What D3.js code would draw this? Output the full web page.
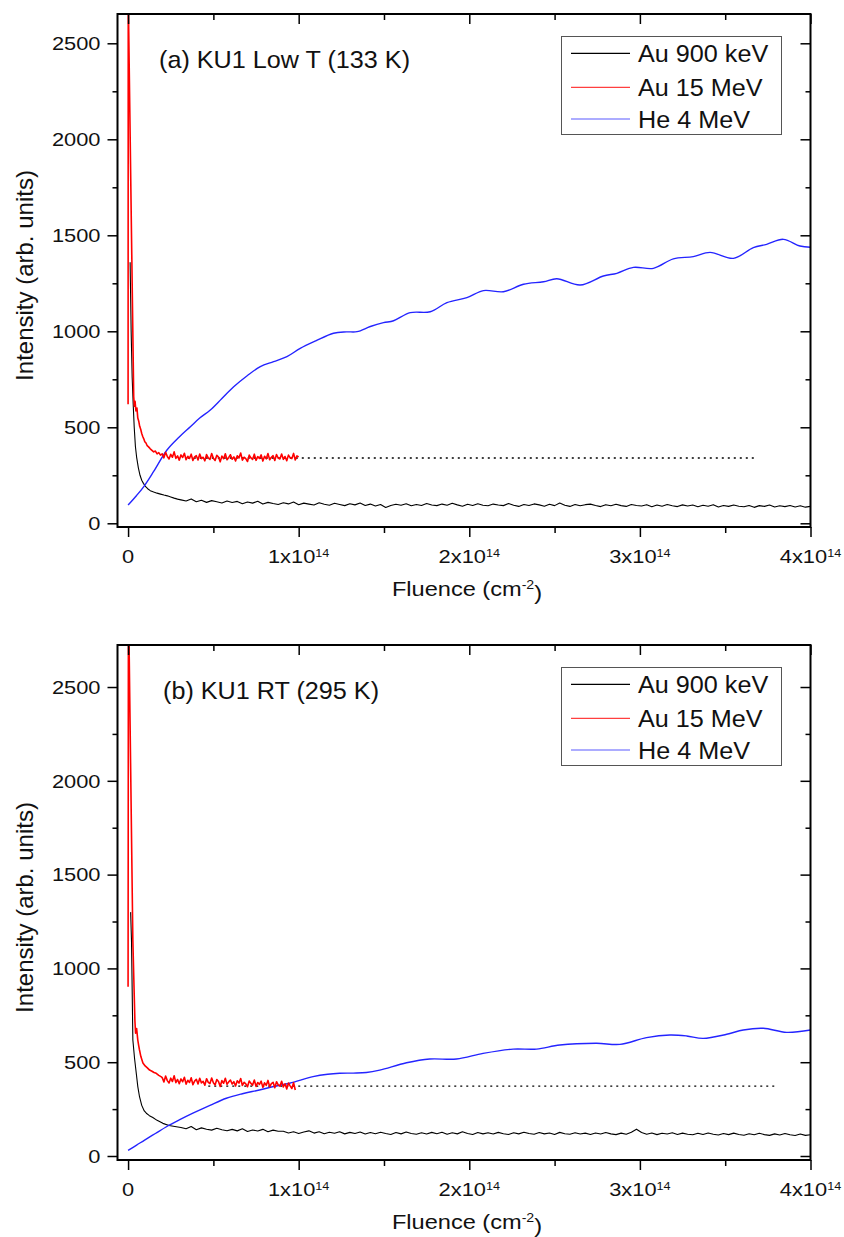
<!DOCTYPE html>
<html><head><meta charset="utf-8">
<script src="https://cdn.jsdelivr.net/npm/d3@7/dist/d3.min.js"></script>
<style>body{margin:0;background:#fff}svg{display:block;font-family:Arial,"Liberation Sans",sans-serif}</style>
</head><body><svg id="c" width="844" height="1237"></svg>
<script>
// ---------------- DATA (fluence in 1e14 cm^-2, intensity in arb. units) ----------------
const seriesNames = ["Au 900 keV", "Au 15 MeV", "He 4 MeV"];
const panelTitles = ["(a) KU1 Low T (133 K)", "(b) KU1 RT (295 K)"];
const xMajorTicks = [0, 1, 2, 3, 4];
const xMinorTicks = [0.5, 1.5, 2.5, 3.5];
const xTickLabels = ["0", "1x10^14", "2x10^14", "3x10^14", "4x10^14"];
const yMajorTicks = [0, 500, 1000, 1500, 2000, 2500];
const yMinorTicks = [250, 750, 1250, 1750, 2250];
const yTickLabels = ["0", "500", "1000", "1500", "2000", "2500"];

// shared sampling grids of the noisy traces
const gridBlack = [0.31,0.34,0.37,0.40,0.43,0.46,0.49,0.52,0.55,0.58,
0.61,0.64,0.67,0.70,0.73,0.76,0.79,0.82,0.85,0.88,
0.91,0.94,0.97,1.00,1.03,1.06,1.09,1.12,1.15,1.18,
1.21,1.24,1.27,1.30,1.33,1.36,1.39,1.42,1.45,1.48,
1.51,1.54,1.57,1.60,1.63,1.66,1.69,1.72,1.75,1.78,
1.81,1.84,1.87,1.90,1.93,1.96,1.99,2.02,2.05,2.08,
2.11,2.14,2.17,2.20,2.23,2.26,2.29,2.32,2.35,2.38,
2.41,2.44,2.47,2.50,2.53,2.56,2.59,2.62,2.65,2.68,
2.71,2.74,2.77,2.80,2.83,2.86,2.89,2.92,2.95,2.98,
3.01,3.04,3.07,3.10,3.13,3.16,3.19,3.22,3.25,3.28,
3.31,3.34,3.37,3.40,3.43,3.46,3.49,3.52,3.55,3.58,
3.61,3.64,3.67,3.70,3.73,3.76,3.79,3.82,3.85,3.88,
3.91,3.94,3.97,4.00];
const gridRed = [0.20,0.21,0.22,0.23,0.24,0.25,0.26,0.27,0.28,0.29,
0.30,0.31,0.32,0.33,0.34,0.35,0.36,0.37,0.38,0.39,
0.40,0.41,0.42,0.43,0.44,0.45,0.46,0.47,0.48,0.49,
0.50,0.51,0.52,0.53,0.54,0.55,0.56,0.57,0.58,0.59,
0.60,0.61,0.62,0.63,0.64,0.65,0.66,0.67,0.68,0.69,
0.70,0.71,0.72,0.73,0.74,0.75,0.76,0.77,0.78,0.79,
0.80,0.81,0.82,0.83,0.84,0.85,0.86,0.87,0.88,0.89,
0.90,0.91,0.92,0.93,0.94,0.95,0.96,0.97,0.98,0.99,1.00];

// ----- panel (a) -----
const blackHeadA = [[0.012,1360],[0.018,1000],[0.024,760],[0.030,620],[0.036,500],[0.043,400],[0.050,345],[0.060,290],[0.070,250],[0.080,224],[0.090,208],[0.100,194],[0.115,180],[0.130,170],[0.150,163],[0.170,157],[0.190,152],[0.210,147],[0.230,143],[0.250,137],[0.270,131],[0.290,126]];
const blackTailA = [122,116,127,112,120,109,118,112,106,116,
108,114,102,111,105,115,100,109,103,98,
107,101,111,97,105,100,95,107,99,94,
104,98,92,102,96,106,93,100,90,98,
82,93,99,94,102,91,98,93,103,95,
92,100,94,104,96,89,99,93,102,94,
91,100,95,92,103,94,88,98,93,101,
96,89,99,92,106,94,88,98,91,97,
100,93,87,97,91,99,92,88,98,93,
90,97,86,95,89,98,91,87,96,90,
95,86,94,89,97,85,93,88,95,89,
86,93,83,92,88,95,85,91,87,93,
85,91,84,88];
const redHeadA = [[0,620],[0.001,2750],[0.033,660],[0.037,610],[0.041,635],[0.046,585],[0.052,600],[0.057,548],[0.063,530],[0.068,505],[0.074,490],[0.080,468],[0.086,452],[0.092,440],[0.098,425],[0.105,418],[0.112,404],[0.120,398],[0.130,388],[0.140,380],[0.150,372],[0.160,376],[0.170,362],[0.180,368],[0.190,355]];
const redTailA = [362,341,370,348,335,359,344,372,338,351,
329,356,343,365,331,349,338,360,327,346,
352,330,361,337,344,325,358,341,333,363,
339,327,354,345,320,350,336,362,331,343,
357,334,346,325,352,340,366,329,344,337,
322,355,341,333,360,328,347,338,356,324,
349,336,363,331,344,352,327,358,340,335,
361,333,348,326,355,342,337,364,330,351,
346];
const blueA = [[0,95],[0.05,145],[0.091,190],[0.15,270],[0.228,382],[0.30,450],[0.365,503],[0.42,548],[0.482,590],[0.55,650],[0.619,711],[0.70,770],[0.775,816],[0.853,842],[0.931,868],[1.009,911],[1.10,950],[1.204,990],[1.28,997],[1.342,998],[1.42,1025],[1.497,1045],[1.556,1055],[1.654,1097],[1.771,1102],[1.869,1149],[1.986,1175],[2.083,1212],[2.20,1206],[2.318,1245],[2.435,1258],[2.513,1274],[2.65,1241],[2.786,1288],[2.865,1302],[2.962,1333],[3.079,1328],[3.196,1377],[3.313,1389],[3.411,1411],[3.548,1380],[3.665,1436],[3.743,1453],[3.841,1479],[3.938,1444],[4.0,1438]];
const refLineA = [[0.35,340],[3.69,340]];

// ----- panel (b) -----
const blackHeadB = [[0.015,1300],[0.020,1150],[0.028,618],[0.038,520],[0.048,441],[0.057,370],[0.067,316],[0.080,270],[0.095,240],[0.107,228],[0.125,215],[0.145,205],[0.170,190],[0.204,174],[0.240,163],[0.283,156]];
const blackTailB = [152,145,157,140,150,143,138,148,140,135,
142,134,145,131,139,133,142,129,138,132,
132,123,129,120,128,134,122,129,119,127,
121,129,118,126,120,128,117,125,119,127,
120,115,125,118,128,120,116,124,117,126,
119,127,116,124,118,129,120,115,125,118,
124,117,126,119,115,124,118,127,120,116,
125,118,123,115,126,119,116,124,117,122,
115,123,117,125,118,114,122,116,127,143,
125,116,123,114,121,117,124,115,122,116,
113,121,115,123,116,112,120,114,122,115,
111,119,113,121,114,110,118,112,120,113,
109,117,110,113];
const redHeadB = [[0,902],[0.002,3000],[0.028,1150],[0.036,860],[0.040,720],[0.044,655],[0.050,680],[0.057,618],[0.062,590],[0.067,565],[0.075,530],[0.087,496],[0.100,480],[0.113,470],[0.126,458],[0.140,452],[0.152,445],[0.165,441],[0.180,430],[0.195,422]];
const redTailB = [418,395,426,402,389,415,397,428,391,408,
385,411,396,420,383,404,392,417,380,399,
409,384,414,390,398,377,412,393,386,416,
391,379,408,397,371,402,388,414,382,395,
405,384,396,373,401,389,413,376,393,385,
369,400,387,378,405,371,392,382,399,366,
390,377,403,369,386,393,364,396,379,372,
398,368,385,357,389,374,360,391,352];
const blueB = [[0,30],[0.05,58],[0.097,85],[0.16,120],[0.225,156],[0.30,192],[0.38,228],[0.48,270],[0.576,308],[0.67,332],[0.77,352],[0.86,372],[0.947,388],[1.084,423],[1.17,436],[1.24,441],[1.32,442],[1.397,445],[1.475,458],[1.632,497],[1.768,517],[1.925,517],[2.081,547],[2.257,570],[2.394,570],[2.531,592],[2.746,601],[2.883,595],[3.039,631],[3.176,645],[3.274,640],[3.371,627],[3.509,649],[3.606,672],[3.723,681],[3.86,659],[4.0,672]];
const refLineB = [[0.47,373],[3.81,373]];

// ---------------- DRAWING ----------------
const colors = ["#000000", "#ff0000", "#2424ff"];
const svg = d3.select("#c");

const panels = [
  {id:"a", top:14, bottom:527, yDomain:[-19.3, 2652.6], title:panelTitles[0],
   black: blackHeadA.concat(blackTailA.map((v,i)=>[gridBlack[i], v])),
   red: redHeadA.concat(redTailA.map((v,i)=>[gridRed[i], v])),
   blue: blueA, ref: refLineA},
  {id:"b", top:645, bottom:1160, yDomain:[-21.3, 2724], title:panelTitles[1],
   black: blackHeadB.concat(blackTailB.map((v,i)=>[gridBlack[i], v])),
   red: redHeadB.concat(redTailB.map((v,i)=>[gridRed[i], v])),
   blue: blueB, ref: refLineB}
];

const left = 117.5, right = 810.5;
const xDomain = [-0.062, 4.0];

function addSupText(sel, label, supSize) {
  const parts = label.split("^");
  sel.append("tspan").text(parts[0]);
  if (parts.length > 1) {
    sel.append("tspan").attr("dy", "-0.55em").attr("font-size", supSize).text(parts[1]);
  }
}

panels.forEach(p => {
  const x = d3.scaleLinear().domain(xDomain).range([left, right]);
  const y = d3.scaleLinear().domain(p.yDomain).range([p.bottom, p.top]);
  const g = svg.append("g");

  g.append("clipPath").attr("id", "clip" + p.id)
    .append("rect").attr("x", left).attr("y", p.top).attr("width", right - left).attr("height", p.bottom - p.top);

  const plot = g.append("g").attr("clip-path", `url(#clip${p.id})`);
  const line = d3.line().x(d => x(d[0])).y(d => y(d[1]));
  const smooth = d3.line().x(d => x(d[0])).y(d => y(d[1])).curve(d3.curveCatmullRom.alpha(0.5));

  plot.append("path").datum(p.ref).attr("d", line).attr("fill", "none")
    .attr("stroke", "#000").attr("stroke-width", 1.3).attr("stroke-dasharray", "2,4");
  plot.append("path").datum(p.black).attr("d", line).attr("fill", "none")
    .attr("stroke", colors[0]).attr("stroke-width", 1.1).attr("stroke-linejoin", "round");
  plot.append("path").datum(p.blue).attr("d", smooth).attr("fill", "none")
    .attr("stroke", colors[2]).attr("stroke-width", 1.4);
  plot.append("path").datum(p.red).attr("d", line).attr("fill", "none")
    .attr("stroke", colors[1]).attr("stroke-width", 1.6).attr("stroke-linejoin", "round");

  // axes ticks
  const tickStyle = sel => { sel.select(".domain").remove(); sel.selectAll("line").attr("stroke", "#000").attr("stroke-width", 1.5); sel.selectAll("text").remove(); };
  g.append("g").attr("transform", `translate(0,${p.bottom})`)
    .call(d3.axisBottom(x).tickValues(xMajorTicks).tickSize(10)).call(tickStyle);
  g.append("g").attr("transform", `translate(0,${p.bottom})`)
    .call(d3.axisBottom(x).tickValues(xMinorTicks).tickSize(6)).call(tickStyle);
  g.append("g").attr("transform", `translate(0,${p.top})`)
    .call(d3.axisBottom(x).tickValues(xMajorTicks).tickSize(10)).call(tickStyle);
  g.append("g").attr("transform", `translate(0,${p.top})`)
    .call(d3.axisBottom(x).tickValues(xMinorTicks).tickSize(6)).call(tickStyle);
  g.append("g").attr("transform", `translate(${left},0)`)
    .call(d3.axisLeft(y).tickValues(yMajorTicks).tickSize(10)).call(tickStyle);
  g.append("g").attr("transform", `translate(${left},0)`)
    .call(d3.axisLeft(y).tickValues(yMinorTicks).tickSize(5)).call(tickStyle);
  g.append("g").attr("transform", `translate(${right},0)`)
    .call(d3.axisLeft(y).tickValues(yMajorTicks).tickSize(10)).call(tickStyle);
  g.append("g").attr("transform", `translate(${right},0)`)
    .call(d3.axisLeft(y).tickValues(yMinorTicks).tickSize(5)).call(tickStyle);

  // frame
  g.append("rect").attr("x", left).attr("y", p.top).attr("width", right - left).attr("height", p.bottom - p.top)
    .attr("fill", "none").attr("stroke", "#000").attr("stroke-width", 2);

  // x tick labels
  xMajorTicks.forEach((v, i) => {
    const t = g.append("text").attr("transform", `translate(${x(v)},${p.bottom + 36}) scale(1.15,1)`)
      .attr("text-anchor", "middle").attr("font-size", 19).attr("fill", "#111");
    addSupText(t, xTickLabels[i], 11);
  });
  // y tick labels
  yMajorTicks.forEach((v, i) => {
    g.append("text").attr("transform", `translate(${left - 17},${y(v)}) scale(1.15,1)`)
      .attr("text-anchor", "end").attr("dy", "0.36em").attr("font-size", 19).attr("fill", "#111")
      .text(yTickLabels[i]);
  });

  // axis titles
  const xl = g.append("text").attr("transform", `translate(467,${p.bottom + 69}) scale(1.18,1)`)
    .attr("text-anchor", "middle").attr("font-size", 20).attr("fill", "#111");
  xl.append("tspan").text("Fluence (cm");
  xl.append("tspan").attr("dy", "-0.55em").attr("font-size", 12).text("-2");
  xl.append("tspan").attr("dy", "0.55em").text(")");

  g.append("text").attr("transform", `translate(33,${(p.top + p.bottom) / 2 + 5}) rotate(-90)`)
    .attr("text-anchor", "middle").attr("font-size", 24).attr("fill", "#111")
    .text("Intensity (arb. units)");

  // panel title
  g.append("text").attr("transform", `translate(${p.id === "a" ? 159 : 163},${p.top + 54}) scale(1.05,1)`)
    .attr("font-size", 24).attr("fill", "#111").text(p.title);

  // legend
  const lg = g.append("g").attr("transform", `translate(0,${p.top})`);
  lg.append("rect").attr("x", 561.5).attr("y", 22.5).attr("width", 220).attr("height", 98)
    .attr("fill", "#fff").attr("stroke", "#555").attr("stroke-width", 1);
  const rowsY = [39.3, 73.3, 105];
  seriesNames.forEach((n, i) => {
    lg.append("line").attr("x1", 571).attr("x2", 630).attr("y1", rowsY[i]).attr("y2", rowsY[i])
      .attr("stroke", colors[i]).attr("stroke-width", 1.2).attr("opacity", i === 0 ? 1 : 0.75);
    lg.append("text").attr("transform", `translate(638,${rowsY[i] + 9}) scale(1.05,1)`)
      .attr("font-size", 24).attr("fill", "#111").text(n);
  });
});
</script></body></html>
